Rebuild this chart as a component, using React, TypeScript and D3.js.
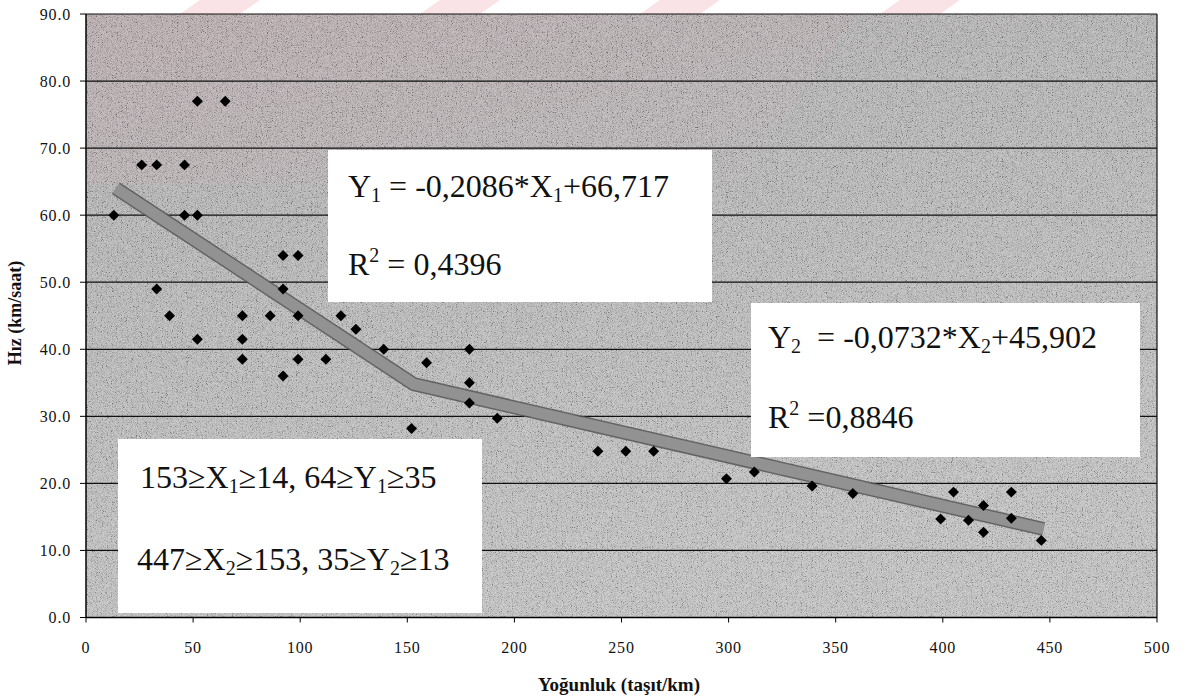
import React from "react";
import * as d3 from "d3";

// ---- data ----
const densityX = [13, 26, 33, 46, 52, 65, 46, 52, 92, 99, 33, 92, 39, 73, 86, 99, 119, 126, 52, 73, 73, 99, 112, 92, 139, 159, 179, 179, 179, 152, 192, 239, 252, 265, 299, 312, 339, 358, 405, 432, 419, 399, 412, 432, 419, 446];
const speedY = [60, 67.5, 67.5, 67.5, 77, 77, 60, 60, 54, 54, 49, 49, 45, 45, 45, 45, 45, 43, 41.5, 41.5, 38.5, 38.5, 38.5, 36, 40, 38, 40, 35, 32, 28.2, 29.7, 24.8, 24.8, 24.8, 20.7, 21.7, 19.6, 18.5, 18.7, 18.7, 16.7, 14.7, 14.5, 14.8, 12.7, 11.5];
const trendX = [14, 153, 447];
const trendY = [64, 34.8, 13.2];
const xTicks = [0, 50, 100, 150, 200, 250, 300, 350, 400, 450, 500];
const yTicks = [0, 10, 20, 30, 40, 50, 60, 70, 80, 90];
const xTitle = "Yoğunluk (taşıt/km)";
const yTitle = "Hız (km/saat)";

const W = 1201;
const H = 698;
const L = 86, R = 1157, T = 14, B = 617.5;
const serif = "'Liberation Serif', 'Times New Roman', serif";

export default function App() {
  const x = d3.scaleLinear().domain([0, 500]).range([L, R]);
  const y = d3.scaleLinear().domain([0, 90]).range([B, T]);
  const pts = densityX.map((d, i) => [d, speedY[i]] as [number, number]);
  const trend = d3.line<number>().x((d) => x(d)).y((_, i) => y(trendY[i]))(trendX) as string;
  const diamond = d3.symbol().type(d3.symbolSquare).size(60)() as string;
  const eqSize = 32;
  const sub = 20;

  return (
    <svg width={W} height={H} style={{ position: "absolute", left: 0, top: 0, display: "block", background: "#fff" }}>
      <defs>
        <filter id="noise" x="0" y="0" width="100%" height="100%">
          <feTurbulence type="fractalNoise" baseFrequency="1.2" numOctaves="1" seed="7" />
          <feColorMatrix type="saturate" values="0" />
          <feComponentTransfer>
            <feFuncR type="linear" slope="4" intercept="-1.3" />
            <feFuncG type="linear" slope="4" intercept="-1.3" />
            <feFuncB type="linear" slope="4" intercept="-1.3" />
            <feFuncA type="linear" slope="0" intercept="0.5" />
          </feComponentTransfer>
        </filter>
        <linearGradient id="bg" x1="0" y1="0" x2="0.3" y2="1">
          <stop offset="0" stopColor="#a5a1a2" />
          <stop offset="0.5" stopColor="#adadad" />
          <stop offset="1" stopColor="#b8b8b8" />
        </linearGradient>
        <linearGradient id="pink" x1="0" y1="0" x2="1" y2="0.6">
          <stop offset="0" stopColor="#c9909a" stopOpacity="0.22" />
          <stop offset="0.6" stopColor="#c9909a" stopOpacity="0.1" />
          <stop offset="1" stopColor="#c9909a" stopOpacity="0" />
        </linearGradient>
        <clipPath id="top">
          <rect x={0} y={0} width={W} height={T} />
        </clipPath>
        <clipPath id="pinkclip">
          <polygon points={`${L},${T} ${R - 300},${T} ${R - 420},${T + 170} ${L},${T + 170}`} />
        </clipPath>
      </defs>

      {/* faint watermark stripes above the plot */}
      <g clipPath="url(#top)" fill="#fae3e6">
        {[180, 420, 640, 880].map((sx) => (
          <polygon key={sx} points={`${sx},${T} ${sx + 60},${T} ${sx + 80},0 ${sx + 20},0`} />
        ))}
      </g>

      {/* plot background */}
      <rect x={L} y={T} width={R - L} height={B - T} fill="url(#bg)" />
      <rect x={L} y={T} width={R - L} height={170} fill="url(#pink)" clipPath="url(#pinkclip)" />
      <rect x={L} y={T} width={R - L} height={B - T} filter="url(#noise)" opacity={0.6} />

      {/* gridlines */}
      {yTicks.map((t) => (
        <line key={"g" + t} x1={L} x2={R} y1={y(t)} y2={y(t)} stroke="#111" strokeWidth={1.2} />
      ))}
      <line x1={R} x2={R} y1={T} y2={B} stroke="#111" strokeWidth={1.2} />

      {/* trend band */}
      <path d={trend} fill="none" stroke="#555" strokeWidth={14} strokeLinejoin="round" opacity={0.85} />
      <path d={trend} fill="none" stroke="#929292" strokeWidth={11} strokeLinejoin="round" />

      {/* points */}
      {pts.map(([a, b], i) => (
        <path key={i} d={diamond} transform={`translate(${x(a)},${y(b)}) rotate(45)`} fill="#000" />
      ))}

      {/* axes */}
      <line x1={L} x2={L} y1={T} y2={B} stroke="#000" strokeWidth={1.5} />
      <line x1={L} x2={R} y1={B} y2={B} stroke="#000" strokeWidth={1.5} />
      {yTicks.map((t) => (
        <g key={"y" + t}>
          <line x1={L - 6} x2={L} y1={y(t)} y2={y(t)} stroke="#000" />
          <text x={L - 15} y={y(t)} dy="0.35em" textAnchor="end" fontFamily={serif} fontSize={16} letterSpacing={0.8} fill="#111">
            {d3.format(".1f")(t)}
          </text>
        </g>
      ))}
      {xTicks.map((t) => (
        <g key={"x" + t}>
          <line x1={x(t)} x2={x(t)} y1={B} y2={B + 5} stroke="#000" />
          <text x={x(t)} y={653} textAnchor="middle" fontFamily={serif} fontSize={16} letterSpacing={0.8} fill="#111">
            {t}
          </text>
        </g>
      ))}
      <text x={619} y={691} textAnchor="middle" fontFamily={serif} fontSize={19} fontWeight="bold" fill="#111">
        {xTitle}
      </text>
      <text transform="translate(21,313) rotate(-90)" textAnchor="middle" fontFamily={serif} fontSize={18} fontWeight="bold" fill="#111">
        {yTitle}
      </text>

      {/* annotation boxes */}
      <rect x={328} y={150} width={384} height={152} fill="#fff" />
      <text x={348} y={197} fontFamily={serif} fontSize={eqSize} fill="#111">
        Y<tspan fontSize={sub} dy={5}>1</tspan>
        <tspan dy={-5}> = -0,2086*X</tspan>
        <tspan fontSize={sub} dy={5}>1</tspan>
        <tspan dy={-5}>+66,717</tspan>
      </text>
      <text x={348} y={275} fontFamily={serif} fontSize={eqSize} fill="#111">
        R<tspan fontSize={sub} dy={-13}>2</tspan>
        <tspan dy={13}> = 0,4396</tspan>
      </text>

      <rect x={751} y={303} width={389} height={154} fill="#fff" />
      <text x={768} y={348} fontFamily={serif} fontSize={eqSize} fill="#111" style={{ whiteSpace: "pre" }}>
        Y<tspan fontSize={sub} dy={5}>2</tspan>
        <tspan dy={-5}>{"  = -0,0732*X"}</tspan>
        <tspan fontSize={sub} dy={5}>2</tspan>
        <tspan dy={-5}>+45,902</tspan>
      </text>
      <text x={768} y={428} fontFamily={serif} fontSize={eqSize} fill="#111">
        R<tspan fontSize={sub} dy={-13}>2</tspan>
        <tspan dy={13}> =0,8846</tspan>
      </text>

      <rect x={118} y={439} width={364} height={174} fill="#fff" />
      <text x={140} y={488} fontFamily={serif} fontSize={eqSize} fill="#111">
        153≥X<tspan fontSize={sub} dy={5}>1</tspan>
        <tspan dy={-5}>≥14, 64≥Y</tspan>
        <tspan fontSize={sub} dy={5}>1</tspan>
        <tspan dy={-5}>≥35</tspan>
      </text>
      <text x={137} y={570} fontFamily={serif} fontSize={eqSize} fill="#111">
        447≥X<tspan fontSize={sub} dy={5}>2</tspan>
        <tspan dy={-5}>≥153, 35≥Y</tspan>
        <tspan fontSize={sub} dy={5}>2</tspan>
        <tspan dy={-5}>≥13</tspan>
      </text>
    </svg>
  );
}
